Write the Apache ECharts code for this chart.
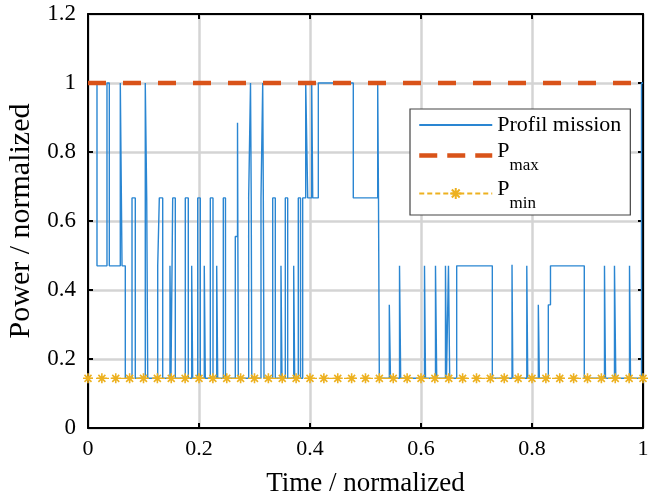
<!DOCTYPE html>
<html><head><meta charset="utf-8">
<script src="https://cdn.jsdelivr.net/npm/echarts@6/dist/echarts.min.js"></script>
<style>html,body{margin:0;padding:0;background:#fff}#c{width:656px;height:497px}</style>
</head><body><div id="c"></div>
<script>
// Profil mission: time at which the level changes, and the new level (held until the next time)
const profileTimes = [
  0, 0.0162, 0.0342, 0.0384, 0.0582, 0.0613, 0.0672, 0.0793, 0.0852, 0.1032,
  0.1058, 0.1076, 0.1256, 0.1285, 0.1346, 0.1477, 0.1495, 0.1526, 0.1573, 0.1753,
  0.1807, 0.1868, 0.1886, 0.1977, 0.2023, 0.2095, 0.2114, 0.2204, 0.2252, 0.2319,
  0.2337, 0.2438, 0.2477, 0.2654, 0.2694, 0.2708, 0.2895, 0.2928, 0.2941, 0.2951,
  0.3117, 0.3148, 0.3159, 0.3171, 0.3328, 0.3375, 0.3477, 0.3495, 0.3555, 0.3598,
  0.3706, 0.3724, 0.3789, 0.3829, 0.3868, 0.3923, 0.3959, 0.4031, 0.4049, 0.4150,
  0.4780, 0.5220, 0.5234, 0.5249, 0.5429, 0.5450, 0.5613, 0.5634, 0.6063, 0.6081,
  0.6261, 0.6283, 0.6441, 0.6459, 0.6495, 0.6517, 0.6643, 0.7285, 0.7640, 0.7654,
  0.7906, 0.7923, 0.8114, 0.8132, 0.8294, 0.8333, 0.8942, 0.9306, 0.9324, 0.9486,
  0.9510, 0.9757, 0.9775, 0.9973, 1.0
];
const profileLevels = [
  1.0, 0.47, 1.0, 0.47, 1.0, 0.47, 0.144, 0.667, 0.144, 1.0,
  0.667, 0.144, 0.47, 0.667, 0.144, 0.47, 0.144, 0.667, 0.144, 0.667,
  0.144, 0.47, 0.144, 0.667, 0.144, 0.47, 0.144, 0.667, 0.144, 0.47,
  0.144, 0.667, 0.144, 0.555, 0.885, 0.144, 0.667, 1.0, 0.667, 0.144,
  0.667, 1.0, 0.667, 0.144, 0.667, 0.144, 0.47, 0.144, 0.667, 0.144,
  0.47, 0.144, 0.667, 0.144, 0.667, 1.0, 0.667, 1.0, 0.667, 1.0,
  0.667, 1.0, 0.667, 0.144, 0.357, 0.144, 0.47, 0.144, 0.47, 0.144,
  0.47, 0.144, 0.47, 0.144, 0.47, 0.144, 0.47, 0.144, 0.473, 0.144,
  0.47, 0.144, 0.357, 0.144, 0.357, 0.47, 0.144, 0.47, 0.144, 0.47,
  0.144, 0.47, 0.144, 1.0, 1.0
];
const pmaxTimes = [0, 1];
const pmaxLevel = 1.0;
const pminTimes = [
  0, 0.025, 0.05, 0.075, 0.1, 0.125, 0.15, 0.175, 0.2, 0.225,
  0.25, 0.275, 0.3, 0.325, 0.35, 0.375, 0.4, 0.425, 0.45, 0.475,
  0.5, 0.525, 0.55, 0.575, 0.6, 0.625, 0.65, 0.675, 0.7, 0.725,
  0.75, 0.775, 0.8, 0.825, 0.85, 0.875, 0.9, 0.925, 0.95, 0.975, 1.0
];
const pminLevel = 0.144;
const seriesNames = ['Profil mission', 'P_max', 'P_min'];
const xTitle = 'Time / normalized';
const yTitle = 'Power / normalized';

const FONT = 'Liberation Serif';
const chart = echarts.init(document.getElementById('c'), null, {renderer: 'canvas'});
const grid = {left: 88, right: 13, top: 14, bottom: 69, containLabel: false, outerBoundsMode: 'none'};
const gridLine = {show: true, lineStyle: {color: '#d4d4d4', width: 2.5}};
const starPath = 'path://M0,5L10,5M5,0L5,10M1.5,1.5L8.5,8.5M1.5,8.5L8.5,1.5';

chart.setOption({
  animation: false,
  backgroundColor: '#fff',
  grid: grid,
  legend: {
    orient: 'vertical', left: 410, top: 109,
    data: [
      {name: seriesNames[0], itemStyle: {opacity: 0}},
      {name: seriesNames[1], itemStyle: {opacity: 0},
        lineStyle: {type: [18, 10], width: 4.5, color: '#D95319'}},
      {name: seriesNames[2]}
    ],
    backgroundColor: '#fff', borderColor: '#444', borderWidth: 1.2, borderRadius: 0,
    padding: [5, 9, 3, 7],
    itemWidth: 73, itemHeight: 14, itemGap: 1,
    formatter: function (n) {
      if (n === 'P_max') return '{p|P}{s|max}';
      if (n === 'P_min') return '{p|P}{s|min}';
      return '{t|' + n + '}';
    },
    textStyle: {
      fontFamily: FONT, fontSize: 22, color: '#000',
      rich: {
        t: {fontFamily: FONT, fontSize: 22, color: '#000', lineHeight: 30},
        p: {fontFamily: FONT, fontSize: 22, color: '#000', lineHeight: 24, padding: [0, 0, 8, 0]},
        s: {fontFamily: FONT, fontSize: 17, color: '#000', lineHeight: 17, padding: [20, 0, 0, 0]}
      }
    }
  },
  xAxis: [{
    type: 'value', min: 0, max: 1, interval: 0.2, position: 'bottom',
    name: xTitle, nameLocation: 'middle', nameGap: 42,
    nameTextStyle: {fontFamily: FONT, fontSize: 27, color: '#000'},
    axisLine: {show: true, onZero: false, lineStyle: {color: '#000', width: 2}},
    axisTick: {show: true, inside: true, length: 5, lineStyle: {color: '#000', width: 2}},
    axisLabel: {fontFamily: FONT, fontSize: 22, color: '#000', margin: 10},
    splitLine: gridLine
  }, {
    type: 'value', min: 0, max: 1, interval: 0.2, position: 'top',
    axisLine: {show: true, onZero: false, lineStyle: {color: '#000', width: 2}},
    axisTick: {show: true, inside: true, length: 5, lineStyle: {color: '#000', width: 2}},
    axisLabel: {show: false}, splitLine: {show: false}
  }],
  yAxis: [{
    type: 'value', min: 0, max: 1.2, interval: 0.2, position: 'left',
    name: yTitle, nameLocation: 'middle', nameGap: 44, nameRotate: 90,
    nameTextStyle: {fontFamily: FONT, fontSize: 30, color: '#000'},
    axisLine: {show: true, onZero: false, lineStyle: {color: '#000', width: 2}},
    axisTick: {show: true, inside: true, length: 5, lineStyle: {color: '#000', width: 2}},
    axisLabel: {fontFamily: FONT, fontSize: 23, color: '#000', margin: 12,
      formatter: function (v) { return String(Math.round(v * 10) / 10); }},
    splitLine: gridLine
  }, {
    type: 'value', min: 0, max: 1.2, interval: 0.2, position: 'right',
    axisLine: {show: true, onZero: false, lineStyle: {color: '#000', width: 2}},
    axisTick: {show: true, inside: true, length: 5, lineStyle: {color: '#000', width: 2}},
    axisLabel: {show: false}, splitLine: {show: false}
  }],
  series: [{
    name: seriesNames[0], type: 'line', step: 'end',
    data: profileTimes.map((t, i) => [t, profileLevels[i]]),
    showSymbol: false, symbol: 'none',
    lineStyle: {color: '#2a86d2', width: 1.4},
    itemStyle: {color: '#2a86d2'}
  }, {
    name: seriesNames[1], type: 'line',
    data: pmaxTimes.map(t => [t, pmaxLevel]),
    symbol: 'none',
    lineStyle: {color: '#D95319', width: 4.5, type: [18, 17]},
    itemStyle: {color: '#D95319'}
  }, {
    name: seriesNames[2], type: 'line',
    data: pminTimes.map(t => [t, pminLevel]),
    symbol: starPath, symbolSize: 10, showSymbol: true,
    lineStyle: {color: '#EDB120', width: 1.3, type: [5, 3]},
    itemStyle: {color: '#EDB120', borderColor: '#EDB120', borderWidth: 1.6}
  }]
});
</script>
</body></html>
